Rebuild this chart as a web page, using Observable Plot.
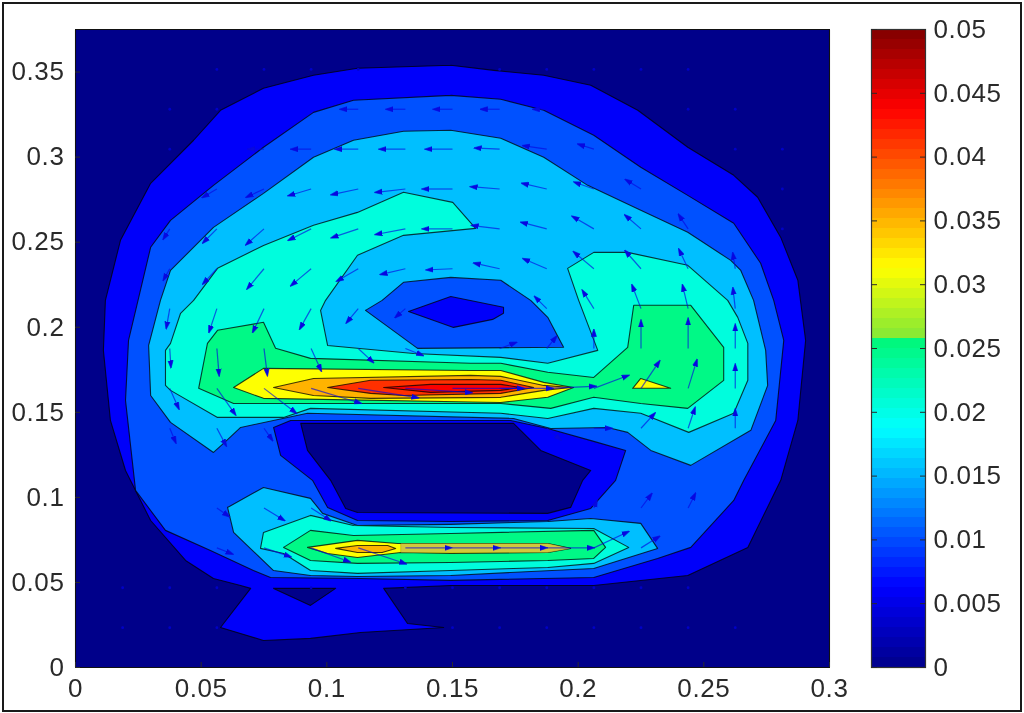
<!DOCTYPE html>
<html>
<head>
<meta charset="utf-8">
<script src="https://cdn.jsdelivr.net/npm/d3@7"></script>
<script src="https://cdn.jsdelivr.net/npm/@observablehq/plot@0.6"></script>
<style>
html,body{margin:0;padding:0;background:#fff;}
#chart{position:relative;width:1024px;height:713px;overflow:hidden;filter:blur(0.7px);}
#chart svg{position:absolute;left:0;top:0;background:transparent;}
#edge{position:absolute;left:2px;top:2px;width:1016px;height:706px;border:2px solid #1a1a1a;}
</style>
</head>
<body>
<div id="chart"><div id="edge"></div></div>
<script>
// ---- axes ----
const xTicks = [0,0.05,0.1,0.15,0.2,0.25,0.3];
const yTicks = [0,0.05,0.1,0.15,0.2,0.25,0.3,0.35];
const barTicks = [0,0.005,0.01,0.015,0.02,0.025,0.03,0.035,0.04,0.045,0.05];
// ---- colour map ----
const stops = [0,0.00625,0.0125,0.01875,0.0257,0.02571,0.03125,0.0375,0.04375,0.05];
const stopColors = ["#00008a","#0000ff","#0080ff","#00ffff","#00f878","#80e838","#ffff00","#ff8000","#ff0000","#800000"];
// ---- contour levels ----
const lv0=0, lv1=0.0060, lv2=0.0102, lv3=0.0156, lv4=0.0205, lv5=0.0250, lv6=0.0312, lv7=0.0350, lv8=0.0414, lv9=0.0440;
// ---- contour outlines (axis units) ----
const panel=[[0,0],[0.3,0],[0.3,0.375],[0,0.375]];
const l1Outer=[[.1493,.354],[.1664,.351],[.1863,.3481],[.205,.3422],[.2237,.3275],[.2436,.3058],[.2619,.2893],[.2714,.2764],[.2806,.2528],[.2874,.2276],[.2905,.1923],[.2874,.1452],[.2806,.11],[.2675,.0706],[.2436,.0541],[.2062,.0482],[.1493,.0482],[.1226,.0465],[.1321,.0259],[.1465,.0235],[.1134,.0206],[.0935,.0171],[.0748,.0159],[.0577,.0235],[.0697,.0465],[.0657,.0482],[.0549,.0523],[.0438,.0629],[.0299,.0864],[.0199,.1158],[.0139,.1452],[.0111,.1864],[.0119,.2158],[.0179,.2511],[.0299,.2846],[.047,.3099],[.0577,.3275],[.0748,.3405],[.0947,.3481],[.1122,.3522]];
const l0Notch=[[.0788,.0465],[.1035,.0465],[.0935,.0365]];
const l2Outer=[[.1493,.3363],[.1692,.334],[.1863,.3275],[.2062,.3128],[.2249,.294],[.2436,.2775],[.2619,.2611],[.2726,.2376],[.2778,.2158],[.2818,.1923],[.2786,.1452],[.2659,.11],[.2619,.0982],[.2448,.0706],[.2316,.0641],[.2062,.0529],[.1493,.0512],[.1134,.0523],[.0776,.0529],[.0708,.057],[.0537,.0688],[.0358,.0806],[.0239,.1041],[.0199,.157],[.0211,.1923],[.0299,.247],[.0378,.2628],[.0549,.2834],[.0748,.3058],[.0947,.3263],[.1106,.3334]];
const l1Strip=[[.0788,.1411],[.0856,.1452],[.1731,.1452],[.1879,.1405],[.2062,.1329],[.2189,.1276],[.2149,.11],[.205,.0935],[.1879,.0864],[.1493,.0858],[.1122,.0864],[.1003,.0941],[.0943,.11],[.0816,.1247]];
const l0Center=[[.0896,.1435],[.1743,.1435],[.1851,.1276],[.205,.1158],[.2018,.11],[.197,.0941],[.1879,.0906],[.1122,.0911],[.1075,.0935],[.1015,.11],[.0923,.1276]];
const l3Upper=[[.0338,.2158],[.0378,.2334],[.0549,.2587],[.0748,.2787],[.0947,.2999],[.1106,.3099],[.1305,.3152],[.1493,.3158],[.1692,.3111],[.1863,.2999],[.2038,.2834],[.2249,.2687],[.2436,.2558],[.2607,.2393],[.2647,.2334],[.2698,.2158],[.2746,.1864],[.2754,.1658],[.2687,.1394],[.2448,.1188],[.2289,.1276],[.2197,.1382],[.2117,.1411],[.1891,.1405],[.1743,.1464],[.0923,.1494],[.0657,.1411],[.0589,.1317],[.0549,.1264],[.0378,.1441],[.0299,.1599],[.0291,.1893]];
const l3Lower=[[.0605,.0941],[.0748,.1058],[.0935,.0994],[.0983,.0906],[.1122,.0835],[.1493,.0841],[.1879,.0858],[.205,.0876],[.2249,.0847],[.2316,.07],[.2062,.0582],[.1493,.0541],[.1122,.0535],[.0935,.0541],[.0788,.057],[.0629,.0794]];
const l2Central=[[.1154,.2099],[.122,.2158],[.1305,.2264],[.1493,.2293],[.1692,.2276],[.1811,.2158],[.1879,.2058],[.1942,.1882],[.1361,.1876]];
const l1Central=[[.1325,.2093],[.1493,.2181],[.1703,.2117],[.1703,.2082],[.166,.2046],[.1504,.1999]];
const l4Upper=[[.047,.2158],[.0565,.2346],[.0748,.2481],[.0947,.2599],[.1122,.2675],[.1305,.2793],[.1501,.2734],[.1592,.2581],[.1305,.254],[.1122,.2423],[.0995,.2158],[.0975,.2099],[.1003,.1893],[.1345,.1846],[.1692,.1823],[.1879,.1788],[.2078,.1864],[.2002,.2158],[.1958,.2346],[.2062,.244],[.2197,.244],[.2436,.2364],[.2595,.2158],[.2635,.2058],[.2675,.1905],[.2675,.1688],[.2619,.1494],[.244,.1382],[.2249,.1494],[.2062,.1523],[.1879,.1464],[.1692,.1494],[.0935,.1523],[.0828,.147],[.0565,.147],[.0378,.1629],[.0358,.1658],[.0358,.1864],[.0378,.1905],[.0418,.2082]];
const l4Lower=[[.0736,.07],[.0748,.0794],[.0935,.0894],[.1106,.0835],[.1493,.0823],[.2062,.0817],[.2201,.0706],[.2062,.0612],[.1879,.0588],[.1493,.057],[.1122,.0553],[.0935,.057],[.0828,.067]];
const l5Upper=[[.0565,.1982],[.0748,.2029],[.0796,.1876],[.0935,.1817],[.1572,.1788],[.1692,.1788],[.1879,.1735],[.2062,.1705],[.2197,.1882],[.2221,.2129],[.2448,.2129],[.2579,.1882],[.2579,.1688],[.2436,.1523],[.2249,.1552],[.2062,.1588],[.1891,.1523],[.1692,.1552],[.0629,.1552],[.049,.1641],[.0525,.1905]];
const l5Lower=[[.0828,.0706],[.0935,.0806],[.1106,.0776],[.1493,.0788],[.2062,.0806],[.2109,.0706],[.2062,.0641],[.1879,.0629],[.1493,.0617],[.1122,.0612],[.0935,.0629]];
const l6Upper=[[.0629,.1646],[.0748,.1758],[.1572,.1746],[.1692,.1746],[.1863,.1676],[.1982,.1646],[.1879,.1588],[.1692,.1558],[.0748,.1582]];
const l6Spot=[[.2217,.1641],[.2249,.1699],[.2368,.1641]];
const l6Lower=[[.0923,.0706],[.1122,.0747],[.1282,.0729],[.1493,.0729],[.1879,.0729],[.197,.07],[.1879,.0676],[.1493,.067],[.1294,.0676],[.1122,.0647],[.1003,.067]];
const dullLower=[[.1294,.0729],[.1879,.0729],[.197,.07],[.1879,.0676],[.1294,.0676]];
const l7Upper=[[.0788,.1646],[.0947,.1699],[.1572,.1717],[.1692,.1711],[.1863,.1658],[.197,.1646],[.1863,.1629],[.1692,.1588],[.1174,.1582],[.0947,.1599]];
const l7Lower=[[.1035,.07],[.1122,.0717],[.1242,.0717],[.1274,.07],[.122,.0676],[.1122,.0676]];
const l8Upper=[[.1003,.1646],[.1174,.1688],[.1572,.1693],[.1692,.1688],[.1823,.1646],[.1692,.1611],[.1305,.1599],[.1174,.1611]];
const l9Upper=[[.1226,.1646],[.1413,.1664],[.1692,.1664],[.1771,.1646],[.1692,.1629],[.1413,.1617]];
// ---- velocity field: [row, column, u, v] on the 16 x 16 grid, u and v in 1/1000 axis units ----
const gridDx=0.01875, gridDy=0.0234375;
const row14=[[14,6,-6,0],[14,7,-6.4,0],[14,8,-6.4,0],[14,9,-6.4,0],[14,10,-4.4,0]];
const row13=[[13,4,-5.2,0],[13,5,-6.8,0],[13,6,-8,0],[13,7,-9.2,0],[13,8,-9.6,0],[13,9,-8.8,.6],[13,10,-8.4,1.8],[13,11,-5.2,2.4]];
const row12=[[12,3,-4.8,-4.1],[12,4,-6,-4.1],[12,5,-8,-3.5],[12,6,-9.6,-3],[12,7,-10.8,-1.8],[12,8,-10.8,0],[12,9,-10.4,1.2],[12,10,-8.8,3],[12,11,-6.8,3.5],[12,12,-5.2,4.7]];
const row11=[[11,2,-2,-4.7],[11,3,-4.8,-7.1],[11,4,-6.4,-8.3],[11,5,-8,-5.9],[11,6,-9.6,-4.7],[11,7,-10.8,-3],[11,8,-10.8,0],[11,9,-10,1.8],[11,10,-9.2,3.5],[11,11,-7.6,6.5],[11,12,-5.6,7.1],[11,13,-3.2,7.1]];
const row10=[[10,2,-2,-5.3],[10,3,-4.8,-7.7],[10,4,-6,-10.6],[10,5,-7.2,-8.9],[10,6,-7.6,-6.5],[10,7,-8.8,-3],[10,8,-9.2,-.6],[10,9,-9.2,3],[10,10,-8.4,5.3],[10,11,-7.2,8.9],[10,12,-5.6,9.4],[10,13,-3.2,10],[10,14,-.8,7.7]];
const row9=[[9,2,-1.2,-10],[9,3,-2.8,-12.4],[9,4,-4,-12.4],[9,5,-4,-10.6],[9,6,-4,-7.1],[9,7,-3.2,-4.1],[9,10,-4,5.9],[9,11,-4,9.4],[9,12,-3.2,12.4],[9,13,-2,12.4],[9,14,-.8,10.6]];
const row8=[[8,2,.4,-9.4],[8,3,.8,-14.2],[8,4,1.2,-14.2],[8,5,3.6,-11.8],[8,6,5.2,-7.1],[8,7,6,-3.5],[8,9,5.6,3],[8,10,3.2,5.9],[8,11,0,9.4],[8,12,0,14.8],[8,13,0,15.9],[8,14,0,12.4]];
const row7=[[7,2,3.2,-10.6],[7,3,6.8,-14.2],[7,4,12,-13.6],[7,5,18.8,-8.3],[7,6,22.8,-5.3],[7,7,25.2,-2.4],[7,8,27.2,0],[7,9,20,0],[7,10,18.4,1.2],[7,11,12.8,7.1],[7,12,6.8,14.8],[7,13,3.2,15.3],[7,14,0,12.4]];
const row6=[[6,2,2,-7.1],[6,3,3.2,-8.9],[6,4,2.8,-5.9],[6,10,4.8,-5.9],[6,11,6,0],[6,12,4.8,7.7],[6,13,2.4,10.6],[6,14,0,9.4]];
const row4=[[4,3,4,-4.1],[4,4,7.2,-6.5],[4,5,6.8,-6.5],[4,11,.8,3],[4,12,3.6,7.1],[4,13,2.4,7.1]];
const row3=[[3,3,5.2,-3],[3,4,9.6,-4.7],[3,5,14.4,-7.7],[3,6,18,-8.9],[3,7,17.2,0],[3,8,17.6,0],[3,9,17.6,0],[3,10,17.6,0],[3,11,12.8,8.9],[3,12,6.4,5.9]];
// near-zero nodes of the field: [row, column]
const stillNodes=[[15,3],[15,4],[15,5],[15,6],[15,9],[15,10],[15,11],[15,12],[15,13],[14,2],[14,3],[14,13],[14,14],[13,2],[13,14],[13,15],[12,15],[11,15],[2,1],[2,2],[2,3],[2,5],[2,7],[2,8],[2,9],[2,10],[2,11],[2,12],[2,13],[1,1],[1,2],[1,3],[1,8],[1,9],[1,10],[1,11],[1,12],[1,13],[1,14]];

// ---- assemble tables for Plot ----
const layers=[[panel,lv0],[l1Outer,lv1],[l0Notch,lv0],[l2Outer,lv2],[l1Strip,lv1],[l0Center,lv0],[l3Upper,lv3],[l3Lower,lv3],[l2Central,lv2],[l1Central,lv1],[l4Upper,lv4],[l4Lower,lv4],[l5Upper,lv5],[l5Lower,lv5],[l6Upper,lv6],[l6Spot,lv6],[l6Lower,lv6],[l7Upper,lv7],[l7Lower,lv7],[l8Upper,lv8],[l9Upper,lv9]];
const rows=layers.flatMap(([poly,level],id)=>[...poly,poly[0]].map(([x,y])=>({id,level,x,y})));
const dullRows=[...dullLower,dullLower[0]].map(([x,y])=>({x,y}));
const arrows=[row14,row13,row12,row11,row10,row9,row8,row7,row6,row4,row3].flat().map(([m,k,u,v])=>({x1:k*gridDx,y1:m*gridDy,x2:k*gridDx+u/1000,y2:m*gridDy+v/1000}));
const stills=stillNodes.map(([m,k])=>({x:k*gridDx,y:m*gridDy}));
const bandCount=64, bandStep=0.05/bandCount;
const bands=d3.range(bandCount).map(i=>({y1:i*bandStep,y2:(i+1)*bandStep,v:(i+0.5)*bandStep}));

function arrowHead(color){
  const m=d3.create("svg:marker").attr("viewBox","-5 -4 10 8").attr("markerWidth",8).attr("markerHeight",6.4).attr("orient","auto").attr("markerUnits","userSpaceOnUse");
  m.append("path").attr("d","M-5,-3.2L5,0L-5,3.2Z").attr("fill",color);
  return m.node();
}
const font={fontFamily:"'Liberation Sans',Arial,sans-serif",fontSize:"26px",letterSpacing:"0.6px",color:"#2a2a2a",background:"transparent"};
const colorScale={type:"linear",domain:stops,range:stopColors,clamp:true};

const main=Plot.plot({
  width:1024,height:713,marginLeft:75,marginRight:195,marginTop:29,marginBottom:46,style:font,
  x:{domain:[0,0.3]},y:{domain:[0,0.375]},color:colorScale,
  marks:[
    Plot.line(rows,{x:"x",y:"y",z:"id",fill:"level",stroke:"#000",strokeWidth:1.1,strokeOpacity:0.75,curve:"linear"}),
    Plot.line(dullRows,{x:"x",y:"y",fill:"#d2c83c",stroke:"#000",strokeWidth:0.6,strokeOpacity:0.25,curve:"linear"}),
    Plot.dot(stills,{x:"x",y:"y",r:1.4,fill:"#0000c8",stroke:"none"}),
    Plot.link(arrows,{x1:"x1",y1:"y1",x2:"x2",y2:"y2",stroke:"#0808e0",strokeWidth:1.2,strokeOpacity:0.65,markerEnd:arrowHead}),
    Plot.frame({stroke:"#111",strokeWidth:1}),
    Plot.axisX(xTicks,{anchor:"bottom",tickSize:-5,tickPadding:16,tickFormat:d=>String(d),label:null}),
    Plot.axisY(yTicks,{anchor:"left",tickSize:-5,tickPadding:16,tickFormat:d=>String(d),label:null})
  ]
});
const bar=Plot.plot({
  width:1024,height:713,marginLeft:871,marginRight:99,marginTop:29,marginBottom:46,style:font,
  x:{domain:[0,1],axis:null},y:{domain:[0,0.05]},color:colorScale,
  marks:[
    Plot.rect(bands,{x1:0,x2:1,y1:"y1",y2:"y2",fill:"v",inset:0,shapeRendering:"crispEdges"}),
    Plot.frame({stroke:"#333",strokeWidth:1.2}),
    Plot.axisY(barTicks,{anchor:"left",tickSize:-6,tickFormat:()=>"",label:null}),
    Plot.axisY(barTicks,{anchor:"right",tickSize:-6,tickPadding:14,tickFormat:d=>String(d),label:null})
  ]
});
const chart=document.getElementById("chart");
chart.append(main,bar);
</script>
</body>
</html>
